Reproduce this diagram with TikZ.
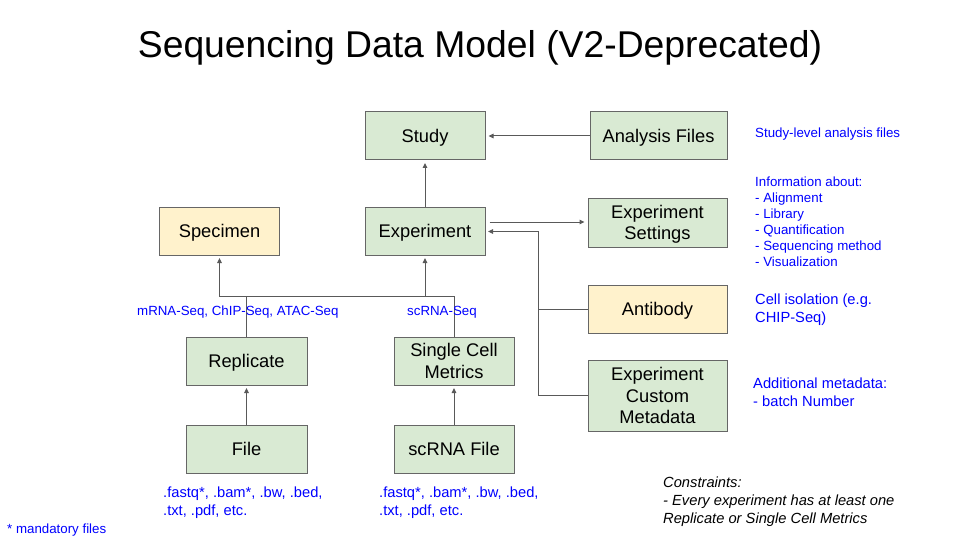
\documentclass[tikz,border=0pt]{standalone}
\usepackage{fontspec}
\setmainfont{Liberation Sans}
\usetikzlibrary{arrows.meta}

\definecolor{boxgreen}{HTML}{D9EAD3}
\definecolor{boxcream}{HTML}{FFF2CC}
\definecolor{boxedge}{HTML}{666666}
\definecolor{linkgray}{HTML}{595959}
\definecolor{noteblue}{HTML}{0000FF}

\begin{document}
\begin{tikzpicture}[x=1pt, y=-1pt,
  entity/.style={draw=boxedge, line width=1pt, fill=boxgreen,
    minimum width=120pt, minimum height=48pt, inner sep=0pt, align=center,
    text depth=0pt, font=\fontsize{18.3}{21.5}\selectfont},
  shared/.style={entity, fill=boxcream},
  link/.style={draw=linkgray, line width=1pt,
    -{Triangle[length=5pt, width=4.5pt]}, shorten >=2.5pt},
  plain/.style={draw=linkgray, line width=1pt},
  note/.style={text=noteblue, inner sep=0pt, align=left},
  smallnote/.style={note, font=\fontsize{13.3}{16}\selectfont},
  bignote/.style={note, font=\fontsize{14.7}{18}\selectfont}
]
\useasboundingbox (0,0) rectangle (960,540);

% title
\node[inner sep=0pt, anchor=base, font=\fontsize{37.3}{40}\selectfont]
  (title) at (480,57.7) {Sequencing Data Model (V2-Deprecated)};

% entities
\node[entity] (study)    at (425,136)     {Study};
\node[entity, minimum width=137pt] (analysis) at (658.5,136) {Analysis Files};
\node[entity] (exp)      at (425,231)     {Experiment};
\node[entity, minimum width=139pt, minimum height=49pt] (settings) at (657.5,222.5) {Experiment\\Settings};
\node[shared] (specimen) at (219.5,231)   {Specimen};
\node[entity, minimum width=121pt] (rep) at (246.5,361) {Replicate};
\node[entity] (scm)      at (454,361)     {Single Cell\\Metrics};
\node[entity, minimum width=121pt] (file) at (246.5,449) {File};
\node[entity] (scfile)   at (454,449)     {scRNA File};
\node[shared, minimum width=139pt] (antibody) at (657.5,309) {Antibody};
\node[entity, minimum width=139pt, minimum height=71pt] (custom) at (657.5,395.5)
  {Experiment\\Custom\\Metadata};

% junction points of the orthogonal connectors
\coordinate (join) at (0,296);
\coordinate (bus)  at (538,231.5);

% connectors
\draw[link, shorten >=3pt] (analysis.west) -- (study.east);
\draw[link] (exp.north) -- (study.south);
\draw[link, shorten <=4pt, shorten >=3pt] (exp.east |- 0,222) -- (settings.west |- 0,222);
\draw[link] (antibody.west) -| (bus) -- (exp.east |- bus);
\draw[plain] (custom.west) -| (bus);
\draw[link] (rep.north) |- (exp.south |- join) -- (exp.south);
\draw[link] (scm.north) |- (specimen.south |- join) -- (specimen.south);
\draw[link] (file.north) -- (rep.south);
\draw[link] (scfile.north) -- (scm.south);

% branch labels
\node[smallnote, anchor=base west] (lblbulk) at (137,315) {mRNA-Seq, ChIP-Seq, ATAC-Seq};
\node[smallnote, anchor=base west] (lblsc) at (407,315) {scRNA-Seq};

% file type notes
\node[bignote, anchor=north west] (filetypes) at (163,484.4)
  {\strut.fastq*, .bam*, .bw, .bed,\\.txt, .pdf, etc.};
\node[bignote, anchor=north west] (scfiletypes) at (379,484.4)
  {\strut.fastq*, .bam*, .bw, .bed,\\.txt, .pdf, etc.};
\node[smallnote, anchor=base west] (mandatory) at (7,533.3) {* mandatory files};

% side notes
\node[smallnote, anchor=base west] (noteanalysis) at (755,137.3) {Study-level analysis files};
\node[smallnote, anchor=north west] (notesettings) at (755,174.8)
  {\strut Information about:\\- Alignment\\- Library\\- Quantification\\- Sequencing method\\- Visualization};
\node[bignote, font=\fontsize{14.7}{18.5}\selectfont, anchor=north west] (noteantibody) at (755,291)
  {\strut Cell isolation (e.g.\\CHIP-Seq)};
\node[bignote, anchor=north west] (notecustom) at (753,375.4)
  {\strut Additional metadata:\\- batch Number};

% constraints
\node[inner sep=0pt, align=left, anchor=north west,
  font=\fontsize{14.7}{18}\selectfont\itshape] (constraints) at (663,474.4)
  {\strut Constraints:\\- Every experiment has at least one\\Replicate or Single Cell Metrics};
\end{tikzpicture}
\end{document}
